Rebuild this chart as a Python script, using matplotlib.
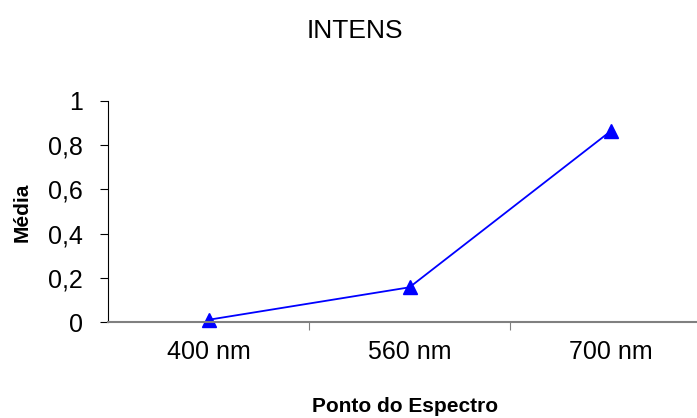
import matplotlib as mpl
import matplotlib.pyplot as plt
import numpy as np

mpl.rcParams['font.family'] = ['Liberation Sans', 'DejaVu Sans']

categories = ["400 nm", "560 nm", "700 nm"]
media = [0.01, 0.157, 0.863]
y_ticks = [0, 0.2, 0.4, 0.6, 0.8, 1]
y_tick_labels = ["0", "0,2", "0,4", "0,6", "0,8", "1"]

fig = plt.figure(figsize=(6.97, 4.18), dpi=100)
ax = fig.add_axes([108 / 697, 96 / 418, 603 / 697, 221 / 418])

x = np.arange(len(categories))
ax.plot(x, media, color="#0000ff", lw=1.3, marker="^", markersize=9.5,
        clip_on=False)

ax.set_xlim(-0.5, 2.5)
ax.set_ylim(0, 1)
ax.set_yticks(y_ticks)
ax.set_yticklabels(y_tick_labels, fontsize=18)
ax.set_xticks([0.5, 1.5])
ax.set_xticklabels([])
for xi, lab in zip(x, categories):
    ax.annotate(lab, xy=(xi, 0), xycoords="data", xytext=(0, -30),
                textcoords="offset pixels", ha="center", va="center",
                fontsize=18)

for s in ["top", "right"]:
    ax.spines[s].set_visible(False)
ax.spines["left"].set_color("black")
ax.spines["bottom"].set_color("#808080")
ax.spines["bottom"].set_linewidth(1.5)
ax.tick_params(axis="y", direction="out", length=6, color="black", pad=12)
ax.tick_params(axis="x", direction="out", length=6, color="#808080")

fig.text(355 / 697, 1 - 31 / 418, "INTENS", ha="center", va="center", fontsize=19)
fig.text(22 / 697, 1 - 212 / 418, "Média", ha="center", va="center",
         rotation=90, fontsize=15, fontweight="bold")
fig.text(405 / 697, 1 - 407 / 418, "Ponto do Espectro", ha="center",
         va="center", fontsize=15, fontweight="bold")

fig.savefig("out.png", dpi=100)
